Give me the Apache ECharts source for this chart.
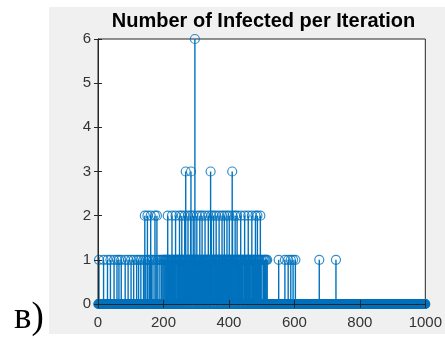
<!DOCTYPE html>
<html><head><meta charset="utf-8">
<script src="https://cdn.jsdelivr.net/npm/echarts@6/dist/echarts.min.js"></script>
<style>html,body{margin:0;padding:0;background:#fff;}#c{width:445px;height:340px;}</style>
</head><body><div id="c"></div>
<script>
const titleText = 'Number of Infected per Iteration';
const panelLabel = 'в)';
const iterationFirst = 1;
const iterationLast = 1000;
const xTickValues = [0, 200, 400, 600, 800, 1000];
const yTickValues = [0, 1, 2, 3, 4, 5, 6];

// iterations with exactly 1 infected
const onesAt = [3, 17, 29, 38, 49, 58, 64, 71, 83, 92, 101, 109, 118, 124, 131, 139, 146, 152, 157, 163, 168, 177, 183, 189, 194, 198,
  201, 204, 207, 209, 211, 214, 216, 219, 222, 225, 228, 231, 233, 236, 238, 241, 243, 245, 247, 250, 252, 254, 257, 259, 261, 264, 266,
  270, 273, 276, 278, 279, 281, 285, 287, 289, 292, 294, 297, 298, 301, 303, 305, 307, 310, 313, 316, 320, 322, 324, 326, 328, 331, 333,
  334, 336, 338, 340, 342, 345, 347, 349, 351, 355, 357, 359, 360, 363, 365, 367, 369, 372, 374, 376, 377, 381, 383, 384, 387, 389, 391,
  392, 395, 397, 399, 402, 404, 406, 408, 413, 415, 417, 421, 423, 424, 427, 429, 431, 433, 435, 438, 441, 443, 446, 449, 451, 454, 456,
  458, 461, 463, 465, 467, 472, 475, 477, 479, 484, 489, 491, 493, 498, 501, 506, 509, 512, 514, 517, 552, 571, 581, 589, 596, 603, 676, 727];
// iterations with 2 infected
const twosAt = [143, 151, 161, 174, 180, 213, 226, 237, 249, 256, 265, 275, 283, 291, 302, 311, 318, 327, 337, 346, 353, 361, 370, 379,
  386, 394, 401, 411, 419, 425, 436, 448, 459, 470, 481, 487, 496];
// iterations with 3 infected
const threesAt = [268, 284, 344, 410];
// iterations with 6 infected
const sixesAt = [296];

const valueAt = {};
onesAt.forEach(i => valueAt[i] = 1);
twosAt.forEach(i => valueAt[i] = 2);
threesAt.forEach(i => valueAt[i] = 3);
sixesAt.forEach(i => valueAt[i] = 6);

const allPoints = [];
for (let i = iterationFirst; i <= iterationLast; i++) allPoints.push([i, valueAt[i] || 0]);
const stemPoints = allPoints.filter(p => p[1] > 0);

const blue = '#0072BD';
const axisColor = '#262626';
const labelFont = { color: '#333', fontSize: 15, fontFamily: 'Liberation Sans, Arial, sans-serif' };

const chart = echarts.init(document.getElementById('c'), null, { renderer: 'canvas' });
chart.setOption({
  animation: false,
  backgroundColor: '#fff',
  color: [blue],
  graphic: [
    { type: 'rect', z: -10, shape: { x: 49, y: 7, width: 396, height: 327 }, style: { fill: '#f0f0f0' } },
    { type: 'text', z: 10, x: 263.5, y: 21, style: { text: titleText, font: 'bold 20px "Liberation Sans", Arial, sans-serif', fill: '#000', align: 'center', verticalAlign: 'middle' } },
    { type: 'text', z: 10, x: 14, y: 318, style: { text: panelLabel, font: '37px "Liberation Serif", "Times New Roman", serif', fill: '#000', align: 'left', verticalAlign: 'middle' } }
  ],
  grid: { left: 98, right: 16, top: 39, bottom: 36, show: true, backgroundColor: '#fff', borderColor: axisColor, borderWidth: 1 },
  xAxis: [
    { type: 'value', min: 0, max: 1000, interval: 200, z: 5,
      axisLine: { show: true, onZero: false, lineStyle: { color: axisColor, width: 1 } },
      axisTick: { show: true, inside: true, length: 4, lineStyle: { color: axisColor } },
      axisLabel: Object.assign({ margin: 11, formatter: v => xTickValues.includes(v) ? String(v) : '' }, labelFont),
      splitLine: { show: false } },
    { type: 'value', position: 'top', min: 0, max: 1000, interval: 200, z: 5,
      axisLine: { show: true, lineStyle: { color: axisColor } },
      axisTick: { show: true, inside: true, length: 4, lineStyle: { color: axisColor } },
      axisLabel: { show: false }, splitLine: { show: false } }
  ],
  yAxis: [
    { type: 'value', min: 0, max: 6, interval: 1, z: 5,
      axisLine: { show: true, onZero: false, lineStyle: { color: axisColor, width: 1 } },
      axisTick: { show: true, inside: true, length: 4, lineStyle: { color: axisColor } },
      axisLabel: Object.assign({ margin: 7, formatter: v => yTickValues.includes(v) ? String(v) : '' }, labelFont),
      splitLine: { show: false } },
    { type: 'value', position: 'right', min: 0, max: 6, interval: 1, z: 5,
      axisLine: { show: true, lineStyle: { color: axisColor } },
      axisTick: { show: true, inside: true, length: 4, lineStyle: { color: axisColor } },
      axisLabel: { show: false }, splitLine: { show: false } }
  ],
  series: [
    { type: 'bar', xAxisIndex: 0, yAxisIndex: 0, z: 2, barWidth: 1.4, barGap: '-100%',
      data: stemPoints, large: false,
      itemStyle: { color: blue, borderWidth: 0 },
      emphasis: { disabled: true } },
    { type: 'scatter', xAxisIndex: 0, yAxisIndex: 0, z: 3, clip: false,
      data: allPoints, symbol: 'circle', symbolSize: 9,
      itemStyle: { color: 'rgba(0,0,0,0)', borderColor: blue, borderWidth: 1.2 },
      emphasis: { disabled: true } }
  ]
});
</script></body></html>
